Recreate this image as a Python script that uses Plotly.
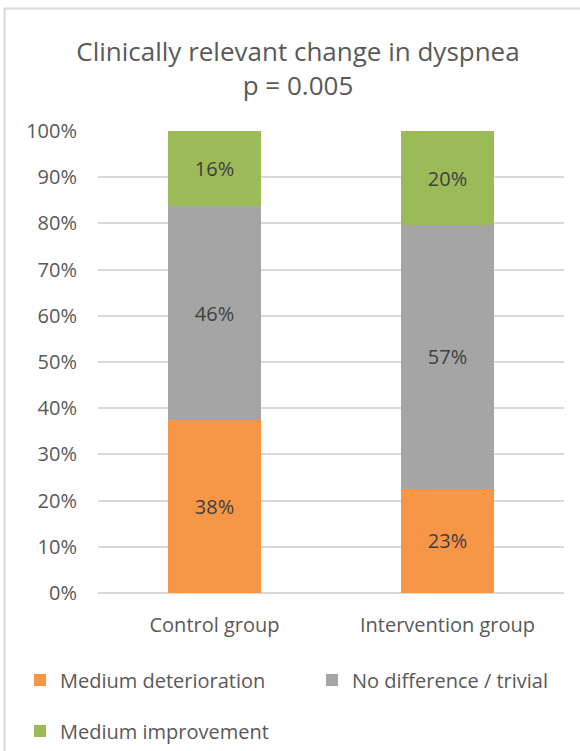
import plotly.graph_objects as go

categories = ["Control group", "Intervention group"]
series_names = ["Medium deterioration", "No difference / trivial", "Medium improvement"]
deterioration = [37.5, 22.6]
no_difference = [46.2, 57.0]
improvement = [16.3, 20.4]
colors = ["#F79646", "#A5A5A5", "#9BBB59"]
tick_vals = [0, 10, 20, 30, 40, 50, 60, 70, 80, 90, 100]
tick_text = [f"{v}%" for v in tick_vals]

W, H = 580, 751
ML, MR, MT, MB = 98, 16, 131, 158
PW, PH = W - ML - MR, H - MT - MB

FONT = "Open Sans"
TXT = "#595959"

legend_ids = ["legend", "legend2", "legend3"]
legend_pos = [(20, 680), (312, 680), (20, 731)]

fig = go.Figure()
for name, vals, col, lg in zip(series_names, [deterioration, no_difference, improvement], colors,
                               legend_ids):
    fig.add_trace(go.Bar(
        x=categories, y=vals, name=name, marker=dict(color=col, line=dict(width=0)),
        width=0.4, texttemplate="%{y:.0f}%", textposition="inside",
        insidetextanchor="middle", textangle=0, constraintext="none",
        textfont=dict(family=FONT, size=20, color="#404040"), legend=lg,
        hoverinfo="skip",
    ))

def px_x(px):
    return (px - ML) / PW

def px_y(py):
    return (H - MB - py) / PH

legends = {}
for lid, (lx, ly) in zip(legend_ids, legend_pos):
    legends[lid] = dict(orientation="h", xref="container", yref="container",
                        x=lx / W, xanchor="left", y=1 - ly / H, yanchor="middle",
                        itemclick=False, font=dict(family=FONT, size=20, color=TXT),
                        bgcolor="rgba(0,0,0,0)")

fig.update_layout(
    width=W, height=H, barmode="stack",
    margin=dict(l=ML, r=MR, t=MT, b=MB, pad=0),
    paper_bgcolor="white", plot_bgcolor="white",
    font=dict(family=FONT, color=TXT),
    title=dict(text="Clinically relevant change in dyspnea<br>p = 0.005",
               x=298 / W, xref="container", xanchor="center",
               y=1 - 61 / H, yref="container", yanchor="top",
               font=dict(family=FONT, size=26, color=TXT)),
    xaxis=dict(showgrid=False, showline=False, zeroline=False, ticks="",
               ticklabelstandoff=18, tickfont=dict(family=FONT, size=20, color=TXT),
               range=[-0.5, 1.5]),
    yaxis=dict(range=[0, 100], tickvals=tick_vals, ticktext=tick_text,
               showgrid=True, gridcolor="#D9D9D9", gridwidth=1.5,
               zeroline=True, zerolinecolor="#D9D9D9", zerolinewidth=1.5,
               showline=False, ticks="", ticklabelstandoff=20,
               tickfont=dict(family=FONT, size=20, color=TXT)),
    showlegend=True,
    shapes=[dict(type="rect", xref="paper", yref="paper",
                 x0=px_x(4.5), x1=px_x(640), y0=px_y(820), y1=px_y(8.5),
                 line=dict(color="#D9D9D9", width=2), fillcolor="rgba(0,0,0,0)", layer="below")],
    **legends,
)

fig.write_html("out.html")
